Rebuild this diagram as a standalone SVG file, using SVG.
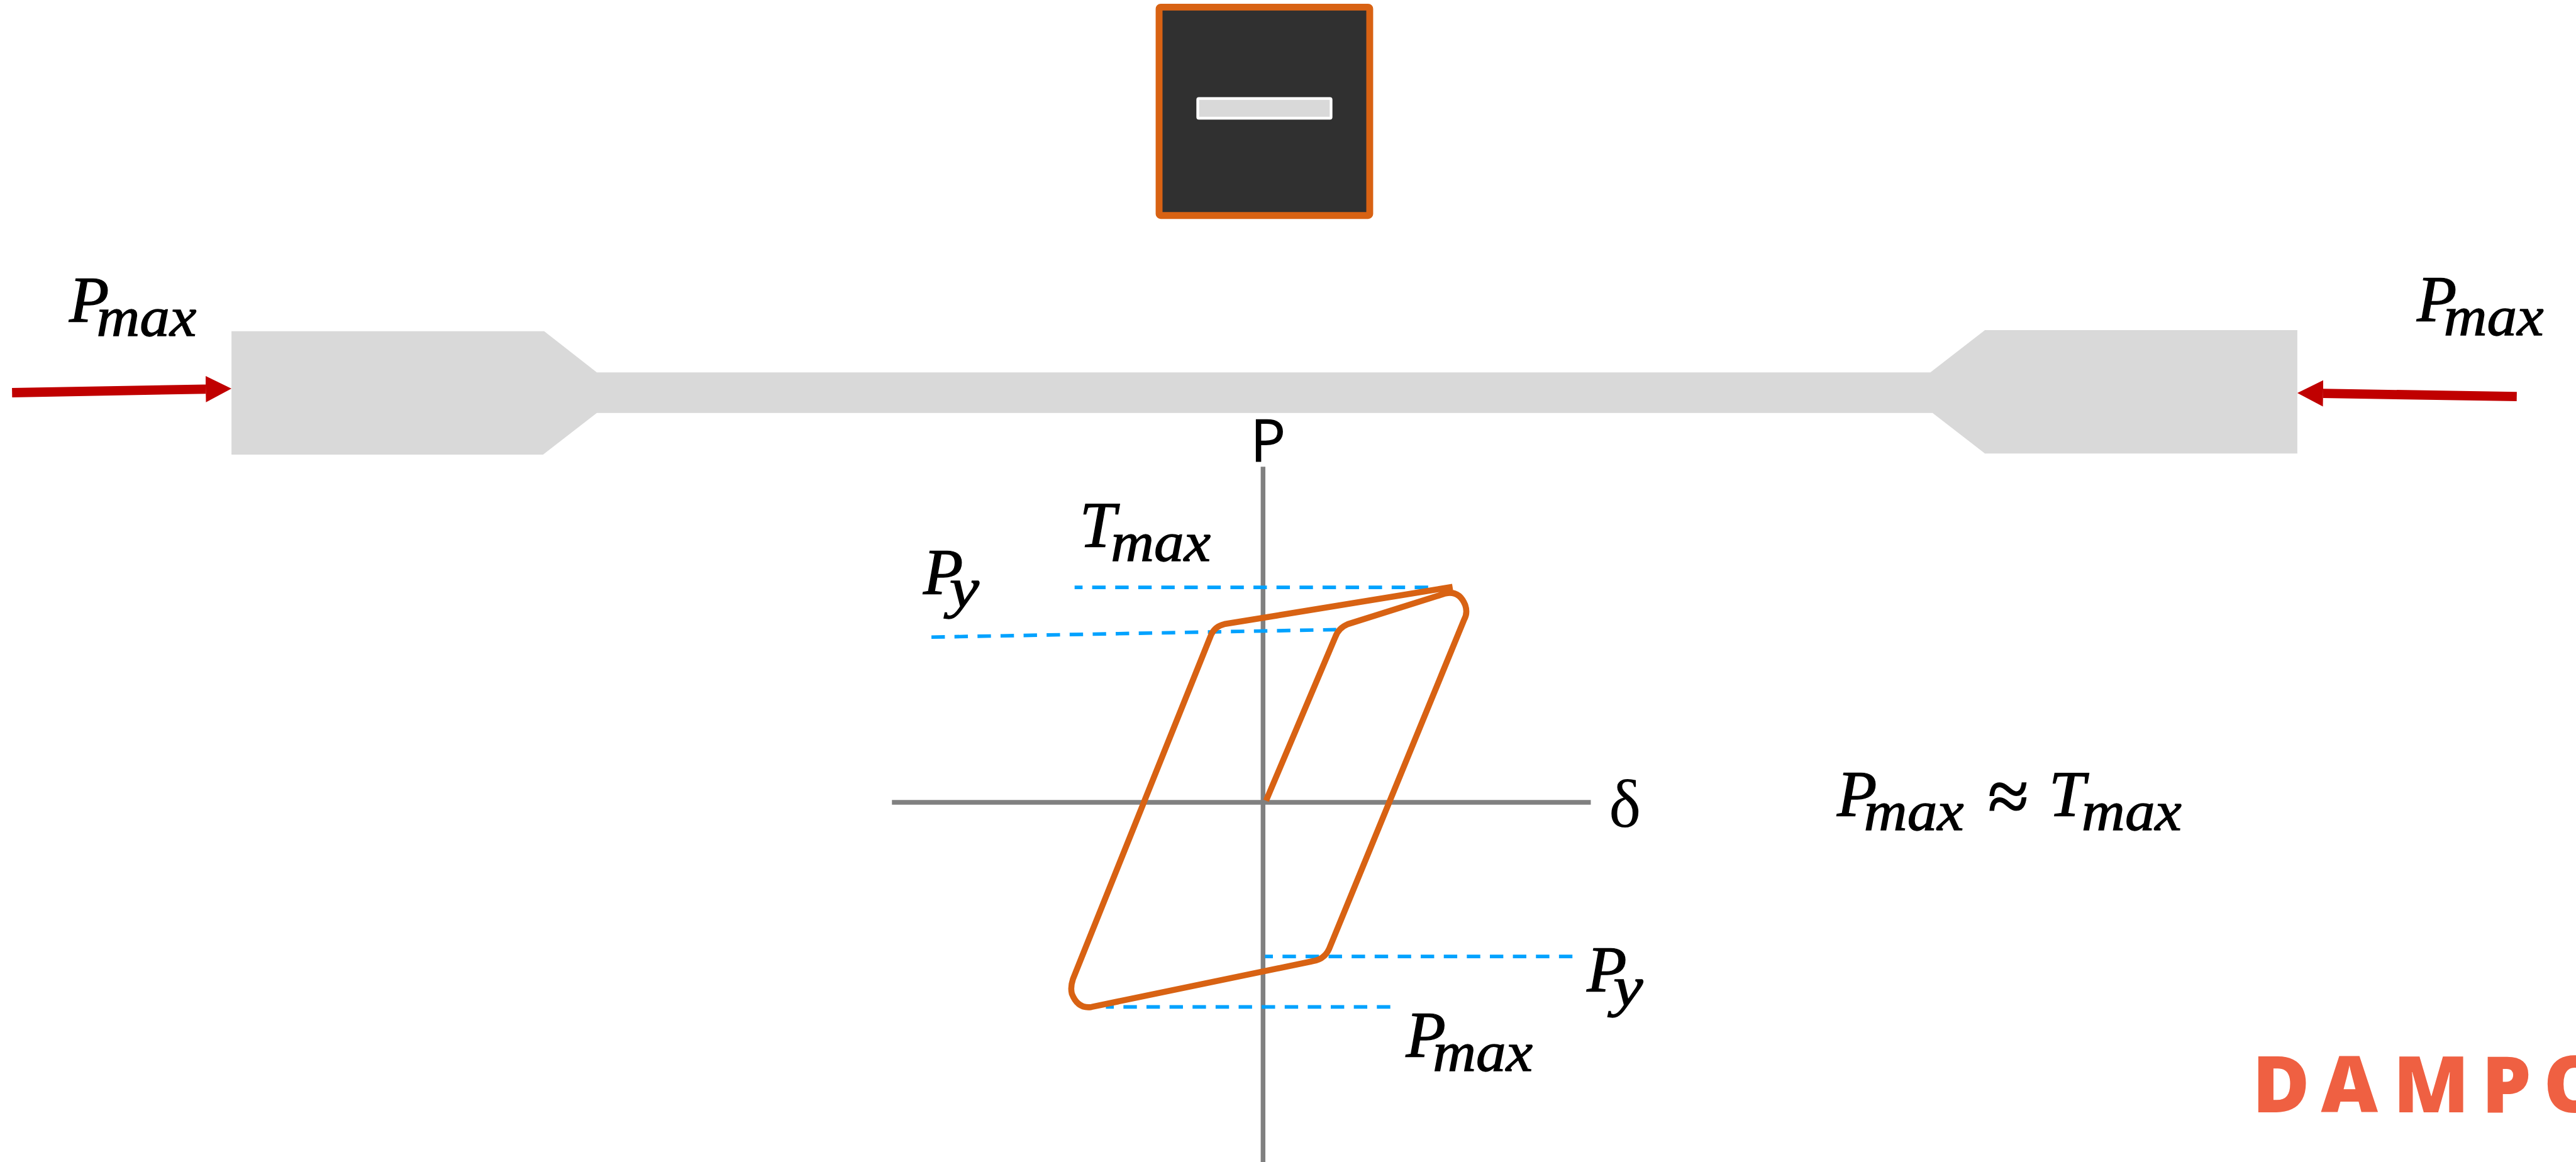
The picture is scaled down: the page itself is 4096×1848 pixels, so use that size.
<svg xmlns="http://www.w3.org/2000/svg" width="4096" height="1848" viewBox="0 0 4096 1848">
<style>
.m{font-family:"Liberation Serif",serif;font-style:italic;font-size:119px;fill:#000;stroke:#000;stroke-width:1.5}
.s{font-family:"Liberation Serif",serif;font-style:italic;font-size:102px;fill:#000;stroke:#000;stroke-width:1.5}
.axis{stroke:#808080;stroke-width:8.5;fill:none}
.dash{stroke:#00A2FF;stroke-width:6.5;fill:none;stroke-dasharray:24.5 17.5}
.arrow{stroke:#C00000;stroke-width:17;fill:none;marker-end:url(#head)}
</style>
<defs>
<marker id="head" markerUnits="userSpaceOnUse" markerWidth="48" markerHeight="50" refX="0" refY="25" orient="auto" viewBox="0 0 48 50"><path d="M0,1 L47,25 L0,49 Z" fill="#C00000"/></marker>
</defs>
<rect width="4096" height="1848" fill="#fff"/>
<g transform="scale(0.87223)">
<g id="cross-section">
<rect x="2113" y="13" width="384" height="380" rx="3" fill="#303030" stroke="#D86213" stroke-width="12.5"/>
<rect x="2183.5" y="179.5" width="243" height="36" rx="2" fill="#D9D9D9" stroke="#fff" stroke-width="5"/>
</g>
<g id="specimen">
<polygon points="422,604 992,604 1088,679 3519,679 3618.5,602 4188,602 4188,827 3618.5,827 3523,753 1088,753 990,829 422,829" fill="#D9D9D9"/>
</g>
<g id="connectors">
<line class="arrow" x1="22" y1="716" x2="375" y2="709.5"/>
<line class="arrow" x1="4588" y1="723" x2="4235" y2="717.3"/>
<line class="axis" x1="2302.5" y1="851" x2="2302.5" y2="2119"/>
<line class="axis" x1="1626" y1="1463" x2="2900" y2="1463"/>
<line class="dash" x1="1959" y1="1071" x2="2604" y2="1071" stroke-dashoffset="10"/>
<line class="dash" x1="1698" y1="1161.7" x2="2436" y2="1148"/>
<line class="dash" x1="2306" y1="1744" x2="2868" y2="1744" stroke-dashoffset="10"/>
<line class="dash" x1="2016" y1="1836" x2="2546" y2="1836" stroke-dashoffset="10"/>
</g>
<g id="hysteresis">
<path d="M2308,1460 L2434,1162 Q2440,1145 2457,1138 L2635,1082 Q2660,1076 2671,1103 Q2676,1118 2669,1130 L2423,1730 Q2414,1750 2391,1753 L1990,1836 Q1965,1840 1954,1812 Q1951,1800 1956,1785 L2208,1157 Q2215,1142 2232,1138 L2648,1070" fill="none" stroke="#D86213" stroke-width="11" stroke-linejoin="round"/>
</g>
<g id="label-pmax-left"><text class="m" x="126" y="587">P</text><text class="s" x="176" y="612" textLength="182" lengthAdjust="spacingAndGlyphs">max</text></g>
<g id="label-pmax-right"><text class="m" x="4406" y="586">P</text><text class="s" x="4455" y="611" textLength="182" lengthAdjust="spacingAndGlyphs">max</text></g>
<g id="label-tmax"><text class="m" x="1968" y="998">T</text><text class="s" x="2025" y="1023" textLength="182" lengthAdjust="spacingAndGlyphs">max</text></g>
<g id="label-py-top"><text class="m" x="1683" y="1083">P</text><text class="s" x="1731" y="1106" textLength="54" lengthAdjust="spacingAndGlyphs">y</text></g>
<g id="label-py-bottom"><text class="m" x="2893" y="1808">P</text><text class="s" x="2941" y="1833" textLength="54" lengthAdjust="spacingAndGlyphs">y</text></g>
<g id="label-pmax-bottom"><text class="m" x="2563" y="1927">P</text><text class="s" x="2612" y="1952" textLength="182" lengthAdjust="spacingAndGlyphs">max</text></g>
<g id="label-p"><text x="2279" y="841" font-family="'Noto Sans',sans-serif" font-size="108" fill="#000">P</text></g>
<g id="label-delta"><text x="2933" y="1508" font-family="'Liberation Serif',serif" font-size="124" fill="#000">δ</text></g>
<g id="equation"><text class="m" x="3349" y="1488">P</text><text class="s" x="3398" y="1513" textLength="182" lengthAdjust="spacingAndGlyphs">max</text><text x="3624" y="1497" font-family="'Liberation Serif',serif" font-size="135" fill="#000" stroke="#000" stroke-width="2">≈</text><text class="m" x="3735" y="1488">T</text><text class="s" x="3795" y="1513" textLength="182" lengthAdjust="spacingAndGlyphs">max</text></g>
<g id="brand"><text x="4106 4231 4363 4524 4637" y="2028" font-family="'Open Sans',sans-serif" font-weight="800" font-size="143" fill="#EF6042">DAMPO</text></g>
</g>
</svg>
